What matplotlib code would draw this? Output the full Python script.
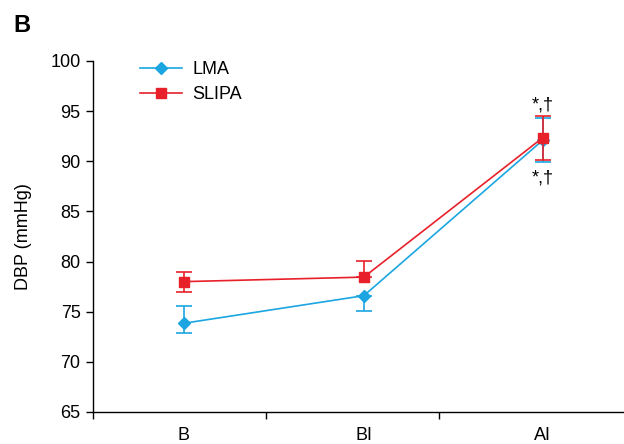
import matplotlib
matplotlib.use("Agg")
import matplotlib.pyplot as plt
from matplotlib.lines import Line2D

plt.rcParams['font.family'] = ['Liberation Sans', 'DejaVu Sans']

categories = ["B", "BI", "AI"]
lma = [73.85, 76.6, 92.1]
lma_err_low = [1.0, 1.5, 2.15]
lma_err_high = [1.7, 0.0, 2.2]
slipa = [78.0, 78.45, 92.35]
slipa_err_low = [1.0, 0.0, 2.2]
slipa_err_high = [1.0, 1.6, 2.2]
yticks = [65, 70, 75, 80, 85, 90, 95, 100]
annot = "*,\u2020"

cyan = "#1ba6e1"
red = "#e8202a"
fs = 13

fig = plt.figure(figsize=(6.24, 4.44), dpi=100)
ax = fig.add_axes([93/624, 32/444, 531/624, 351/444])

xpos = [0.526, 1.566, 2.6]

ax.errorbar(xpos, lma, yerr=[lma_err_low, lma_err_high], color=cyan, marker='D',
            markersize=6.5, lw=1.2, capsize=6, capthick=1.2, elinewidth=1.2, zorder=3)
ax.errorbar(xpos, slipa, yerr=[slipa_err_low, slipa_err_high], color=red, marker='s',
            markersize=6.5, lw=1.2, capsize=6, capthick=1.2, elinewidth=1.2, zorder=4)

ax.set_xlim(0, 3.07)
ax.set_ylim(65, 100)
ax.set_yticks(yticks)
ax.set_yticklabels([str(v) for v in yticks], fontsize=fs)
ax.set_xticks(xpos)
ax.set_xticklabels(categories, fontsize=fs)
ax.tick_params(axis='x', which='major', length=0, pad=11)
ax.set_xticks([0, 1, 2], minor=True)
ax.tick_params(axis='x', which='minor', length=5, width=1)
ax.tick_params(axis='y', length=5, width=1, pad=4)

for s in ['top', 'right']:
    ax.spines[s].set_visible(False)
ax.spines['left'].set_linewidth(1)
ax.spines['bottom'].set_linewidth(1)

ax.set_ylabel("DBP (mmHg)", fontsize=fs, labelpad=13)

ax.text(xpos[2], 94.8, annot, ha='center', va='bottom', fontsize=fs)
ax.text(xpos[2], 89.2, annot, ha='center', va='top', fontsize=fs)

handles = [Line2D([], [], color=cyan, marker='D', markersize=6.5, lw=1.2),
           Line2D([], [], color=red, marker='s', markersize=6.5, lw=1.2)]
ax.legend(handles, ["LMA", "SLIPA"], loc='upper left', bbox_to_anchor=(0.075, 1.02),
          frameon=False, fontsize=fs, handlelength=2.35, handletextpad=0.55,
          labelspacing=0.45, borderaxespad=0)

fig.text(13/624, 1 - 25/444, "B", fontsize=17, fontweight='bold', va='center', ha='left')

fig.savefig("out.png", dpi=100)
